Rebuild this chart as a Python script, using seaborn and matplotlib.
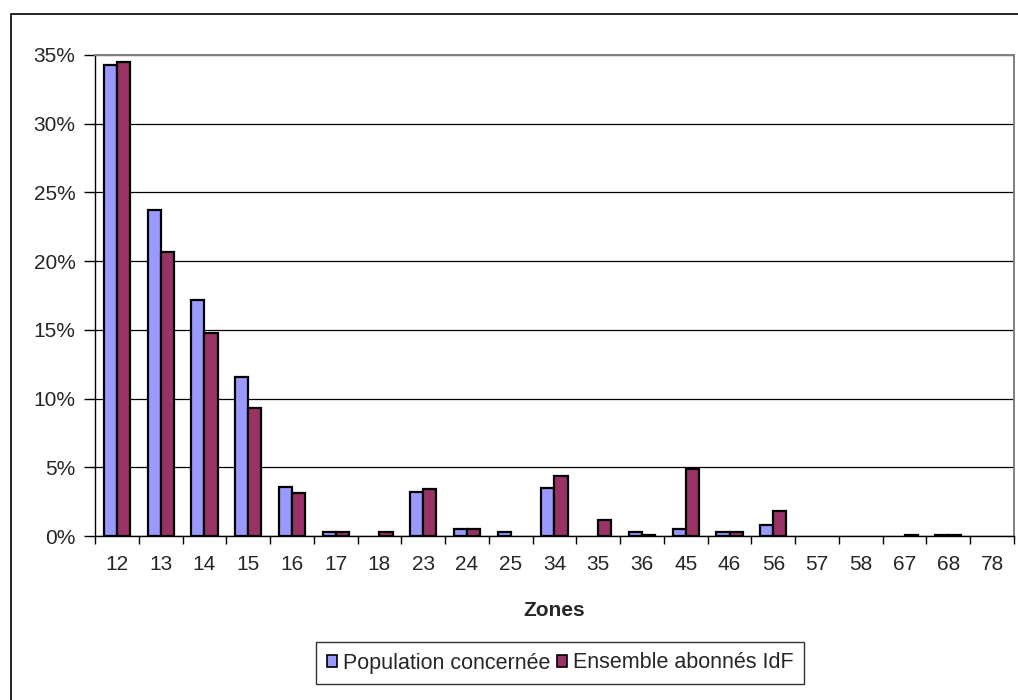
import matplotlib
matplotlib.use("Agg")
import matplotlib.pyplot as plt
from matplotlib.patches import Rectangle, Patch
from matplotlib.ticker import FuncFormatter, FixedLocator
import seaborn as sns
import pandas as pd

zones = ["12", "13", "14", "15", "16", "17", "18", "23", "24", "25", "34",
         "35", "36", "45", "46", "56", "57", "58", "67", "68", "78"]
population = [34.3, 23.7, 17.2, 11.6, 3.6, 0.3, 0.0, 3.2, 0.5, 0.3, 3.5,
              0.0, 0.3, 0.5, 0.3, 0.8, 0.0, 0.0, 0.0, 0.1, 0.0]
abonnes = [34.5, 20.7, 14.8, 9.3, 3.1, 0.3, 0.3, 3.4, 0.5, 0.0, 4.4,
           1.2, 0.1, 4.9, 0.3, 1.8, 0.0, 0.0, 0.1, 0.1, 0.0]
series = ["Population concernée", "Ensemble abonnés IdF"]
colors = ["#9999FF", "#993366"]
y_ticks = [0, 5, 10, 15, 20, 25, 30, 35]

df = pd.DataFrame({
    "Zones": zones * 2,
    "Part": population + abonnes,
    "Série": [series[0]] * len(zones) + [series[1]] * len(zones),
})

sns.set_style("white")
plt.rcParams["font.family"] = ["Liberation Sans", "DejaVu Sans"]

W, H = 1018, 700
fig = plt.figure(figsize=(W / 100, H / 100), dpi=100)
fig.patch.set_facecolor("white")

# chart frame (only top and left edges fall inside the canvas)
fig.add_artist(Rectangle((11 / W, -0.1), 1.2, (H - 14) / H + 0.1,
                         transform=fig.transFigure, fill=False,
                         edgecolor="black", linewidth=1.2))

ax = fig.add_axes([95 / W, 1 - 536 / H, (1014 - 95) / W, (536 - 55) / H])

sns.barplot(data=df, x="Zones", y="Part", hue="Série", order=zones,
            hue_order=series, palette=colors, width=0.6, gap=0,
            edgecolor="black", linewidth=1.6, saturation=1, ax=ax,
            legend=False, errorbar=None)

# empty categories show no outline
for bar in ax.patches:
    if bar.get_height() == 0:
        bar.set_visible(False)

ax.set_ylim(0, 35)
ax.set_xlim(-0.5, len(zones) - 0.5)
ax.yaxis.set_major_locator(FixedLocator(y_ticks))
ax.yaxis.set_major_formatter(FuncFormatter(lambda v, _: f"{v:.0f}%"))
ax.yaxis.grid(True, color="black", linewidth=0.9)
ax.set_axisbelow(True)

for side in ["top", "right"]:
    ax.spines[side].set_visible(True)
    ax.spines[side].set_color("#808080")
    ax.spines[side].set_linewidth(1.4)
for side in ["left", "bottom"]:
    ax.spines[side].set_color("black")
    ax.spines[side].set_linewidth(1.0)

ax.tick_params(axis="y", which="major", direction="out", length=8,
               width=1, color="black", labelsize=15, pad=6, left=True)
ax.tick_params(axis="x", which="major", length=0, labelsize=15, pad=14)
# tick marks between categories on the x axis
ax.set_xticks([i + 0.5 for i in range(-1, len(zones))], minor=True)
ax.tick_params(axis="x", which="minor", direction="out", length=6,
               width=1, color="black", bottom=True)

ax.set_xlabel("Zones", fontsize=15, fontweight="bold", labelpad=19)
ax.set_ylabel("")

handles = [Patch(facecolor=c, edgecolor="black", linewidth=1.2) for c in colors]
leg = fig.legend(handles, series, loc="center",
                 bbox_to_anchor=(560 / W, 1 - 663 / H),
                 bbox_transform=fig.transFigure, ncol=2, frameon=True,
                 fancybox=False, edgecolor="black", fontsize=15.5,
                 handlelength=0.5, handleheight=0.5, handletextpad=0.25,
                 columnspacing=0.3, borderpad=0.5, borderaxespad=0)
leg.get_frame().set_linewidth(1.0)

fig.savefig("out.png", dpi=100, facecolor="white")
